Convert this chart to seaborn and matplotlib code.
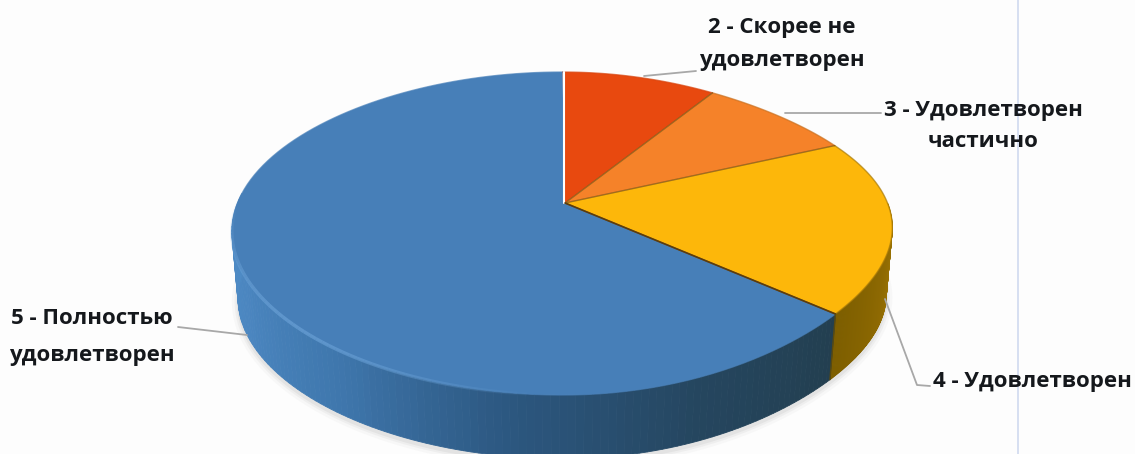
import numpy as np
import matplotlib.pyplot as plt
import seaborn as sns

# share of answers, clockwise from the top of the pie
labels = ['2 - Скорее не\nудовлетворен', '3 - Удовлетворен\nчастично', '4 - Удовлетворен', '5 - Полностью\nудовлетворен']
values = [9.2, 9.2, 17.8, 63.8]

face_colors = ['#e8490f', '#f58229', '#fdb70a', '#477fb8']
edge_colors = ['#d8440e', '#c9701f', '#a87a08', '#477fb8']

sns.set_theme(style='white')
plt.rcParams['font.family'] = ['Open Sans', 'DejaVu Sans']

W, H = 1135, 454
fig = plt.figure(figsize=(W / 100, H / 100), dpi=100, facecolor='#fdfdfd')
ax = fig.add_axes([0, 0, 1, 1])
ax.set_xlim(0, W)
ax.set_ylim(H, 0)
ax.set_facecolor('#fdfdfd')
sns.despine(ax=ax, left=True, bottom=True)
ax.set_xticks([])
ax.set_yticks([])

# page rule from the scan, behind the text
ax.axvline(1018, color='#d3dcf0', lw=1.3, zorder=0)

# tilted disc: a circle seen in perspective
apex_x, cx, cy, kx, ky, tilt = 565, 562.5, 203, 325, 155.7, 0.189
depth = 68


def project(theta, r=1.0, drop=0.0):
    # the scanned disc is a little flatter on its right side
    squeeze = np.where(np.sin(theta) > 0, 0.03, 0.008)
    r = r * (1 - squeeze * np.sin(2 * theta) ** 2)
    x = r * np.sin(theta)
    y = r * np.cos(theta)
    w = 1 + tilt * y
    return cx + kx * x / w, cy - ky * y / w + drop


edges = np.cumsum([0] + values) / sum(values) * 2 * np.pi

# soft shadow round the side wall
th = np.linspace(np.pi * 0.45, np.pi * 1.55, 200)
sx, sy = project(th, r=0.98, drop=depth + 3)
for lw, a in [(10, 0.03), (6, 0.05), (3, 0.07)]:
    ax.plot(sx, sy, color='#555555', lw=lw, alpha=a, zorder=1)

# side walls, drawn as thin shaded strips
wall_parts = [
    (np.pi * 0.5, edges[3], ['#a87d06', '#8f6a02', '#7d5e00']),
    (edges[3], np.pi * 1.52, ['#233f50', '#25465f', '#2c5780', '#3f77ad', '#4b86c0', '#4f8cc6']),
]
for start, stop, stops in wall_parts:
    n = 120
    pal = sns.blend_palette(stops, n)
    grid = np.linspace(start, stop, n + 1)
    for i in range(n):
        t = grid[i:i + 2]
        xt, yt = project(t)
        xb, yb = project(t, r=0.982, drop=depth)
        ax.fill(np.r_[xt, xb[::-1]], np.r_[yt, yb[::-1]], color=pal[i], lw=0.6, zorder=2)

# top face
for i in range(len(values)):
    t = np.linspace(edges[i], edges[i + 1], 120)
    px, py = project(t)
    ax.fill(np.r_[apex_x, px], np.r_[cy, py], color=face_colors[i], lw=0, zorder=3)
    ax.plot(px, py, color=edge_colors[i], lw=1.0, alpha=0.7, zorder=4)
    if i > 0:
        ex, ey = project(edges[i])
        ax.plot([apex_x, ex], [cy, ey], color='#8a5a14', lw=1.0, alpha=0.8, zorder=4)

# light rim where the blue face meets its wall, fading at both ends
grid = np.linspace(np.pi * 1.02, np.pi * 1.5, 61)
for i in range(60):
    px, py = project(grid[i:i + 2])
    fade = np.sin(np.pi * (i + 0.5) / 60)
    ax.plot(px, py, color='#6ea5da', lw=2.5, alpha=0.6 * fade, solid_capstyle='butt', zorder=4)

# white seam at the top, dark seam at the front corner
ex, ey = project(0.0)
ax.plot([apex_x - 1.5, ex + 1], [cy, ey], color='white', lw=1.5, zorder=5)
ex, ey = project(edges[3])
ax.plot([apex_x, ex], [cy, ey], color='#5a3c10', lw=1.2, zorder=5)
bx, by = project(edges[3], r=0.982, drop=depth)
ax.plot([ex, bx], [ey, by], color='#5a4a10', lw=1.0, zorder=5)

# leader lines
leaders = [
    ([644, 696], [76, 71]),
    ([785, 881], [113, 113]),
    ([885, 917, 930], [299, 385, 386]),
    ([178, 247], [327, 335]),
]
for lx, ly in leaders:
    ax.plot(lx, ly, color='#a8a8a8', lw=1.3, zorder=6)

# labels
label_pos = [(782, 44, 1.7), (983, 126, 1.6), (1032, 382, 1.2), (92, 337, 1.95)]
for text, (x, y, gap) in zip(labels, label_pos):
    ax.text(x, y, text, ha='center', va='center', fontsize=16, fontweight='bold',
            color='#15181c', linespacing=gap, zorder=7)

fig.savefig('out.png', dpi=100, facecolor=fig.get_facecolor())
